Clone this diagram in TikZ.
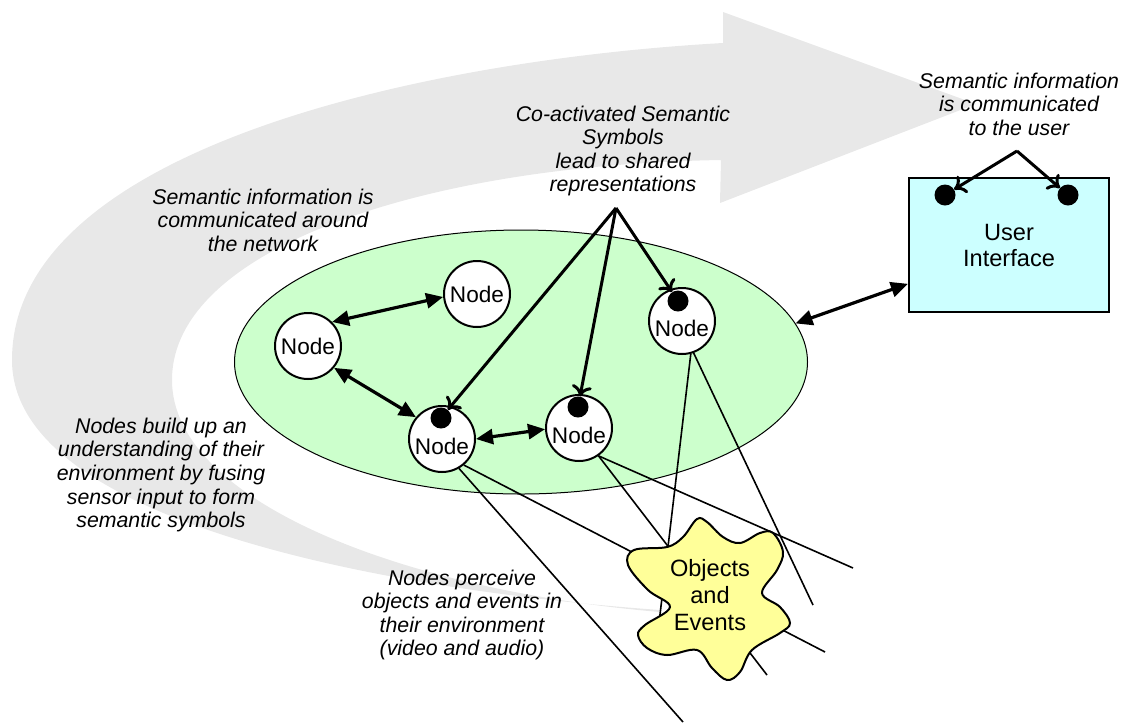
\documentclass[tikz,border=0pt]{standalone}
\usepackage{fontspec}
\setmainfont{Liberation Sans}
\usetikzlibrary{shapes.geometric, arrows.meta, positioning, calc}
\definecolor{bandgray}{HTML}{E8E8E8}
\definecolor{netgreen}{HTML}{CCFFCC}
\definecolor{uicyan}{HTML}{CCFFFF}
\definecolor{blobyellow}{HTML}{FFFF99}

\begin{document}
\begin{tikzpicture}[x=1pt, y=-1pt,
    note/.style={align=center, font=\fontsize{21.3}{23.6}\selectfont\itshape},
    netnode/.style={circle, draw, line width=2pt, fill=white, minimum size=66pt, inner sep=0pt, font=\fontsize{22.6}{26}\selectfont},
    dotnode/.style={netnode, text height=31pt, text depth=0pt},
    sym/.style={circle, fill=black, minimum size=21pt, inner sep=0pt},
    link/.style={{Triangle[length=17pt,width=15pt]}-{Triangle[length=17pt,width=15pt]}, line width=3.2pt},
    share/.style={-{Computer Modern Rightarrow[length=11pt,width=20pt]}, line width=3pt},
    sense/.style={line width=1.6pt}
]
    \useasboundingbox (0,0) rectangle (1127,724);

    % Flow arrow in the background
    \fill[bandgray] (723,43) .. controls (420,60) and (12,150) .. (12,360)
        .. controls (12,520) and (380,590) .. (660,610)
        -- (660,612) .. controls (400,590) and (172,500) .. (172,380)
        .. controls (172,250) and (420,165) .. (721,160)
        -- (720,203) -- (976,104) -- (723,12) -- cycle;

    % Network
    \node[ellipse, draw, line width=1pt, fill=netgreen, minimum width=573pt, minimum height=264pt] (net) at (521,362) {};
    \node[netnode] (n1) at (477,294) {Node};
    \node[netnode] (n2) at (308,346) {Node};
    \node[dotnode] (n3) at (442,439) {Node};
    \node[dotnode] (n4) at (579,428) {Node};
    \node[dotnode] (n5) at (682,321) {Node};
    \node[sym] (d3) at (441,418) {};
    \node[sym] (d4) at (578,407) {};
    \node[sym] (d5) at (678,301) {};

    % User interface
    \node[rectangle, draw, line width=2.2pt, fill=uicyan, minimum width=200pt, minimum height=134pt, align=center, font=\fontsize{23.6}{26}\selectfont] (ui) at (1009,245) {User\\Interface};
    \node[sym] (du1) at (945,195) {};
    \node[sym] (du2) at (1068,195) {};

    % Sensor lines
    \coordinate (v1) at (683,722);
    \coordinate (v2) at (825,652);
    \coordinate (v3) at (767,675);
    \coordinate (v4) at (853,568);
    \coordinate (v5) at (657,640);
    \coordinate (v6) at (813,605);
    \draw[sense] (n3.-60) -- (v1);
    \draw[sense] (n3.-50) -- (v2);
    \draw[sense] (n4.-55) -- (v3);
    \draw[sense] (n4.-55) -- (v4);
    \draw[sense] (n5.-75) -- (v5);
    \draw[sense] (n5.-70) -- (v6);

    % Objects and events
    \draw[line width=2pt, fill=blobyellow] plot[smooth cycle, tension=0.6] coordinates {
        (697,519) (707,522) (723,537) (740,543) (760,533) (773,533) (783,552)
        (777,570) (762,593) (780,607) (790,623) (780,633) (752,650) (740,672)
        (727,680) (712,668) (697,650) (667,655) (647,648) (638,635) (645,625)
        (670,607) (648,590) (628,565) (634,550) (667,547) (683,537)};
    \node[align=center, font=\fontsize{23.6}{27}\selectfont] (obj) at (710,595) {Objects\\and\\Events};

    % Arrows
    \draw[link] (n2.45) -- (n1.185);
    \draw[link] (n2.-40) -- (n3.140);
    \draw[link] (n3.0) -- (n4.182);
    \draw[link] (net.8) -- (ui.201);
    \coordinate (share) at (616,208);
    \draw[share] (share) -- (d3);
    \draw[share] (share) -- (d4);
    \draw[share] (share) -- (d5);
    \coordinate (tell) at (1017,151);
    \draw[share] (tell) -- (du1);
    \draw[share] (tell) -- (du2);

    % Labels
    \node[note] (lnet) at (263,220) {Semantic information is\\communicated around\\the network};
    \node[note] (lshare) at (623,151) {Co-activated Semantic\\Symbols\\lead to shared\\representations};
    \node[note] (luser) at (1019,104) {Semantic information\\is communicated\\to the user};
    \node[note] (lfuse) at (161,475) {Nodes build up an\\understanding of their\\environment by fusing\\sensor input to form\\semantic symbols};
    \node[note] (lsee) at (462,615) {Nodes perceive\\objects and events in\\their environment\\(video and audio)};
\end{tikzpicture}
\end{document}
